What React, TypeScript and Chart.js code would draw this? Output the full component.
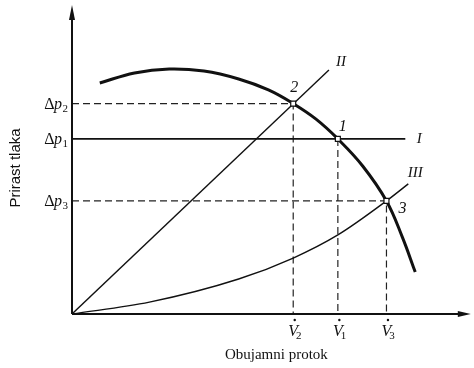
import React, { useEffect, useRef } from 'react';
import { Chart, registerables } from 'chart.js';

Chart.register(...registerables);

// Pump characteristic: volume flow vs. pressure rise
const pumpFlow = [7, 15.75, 24.5, 33.25, 42, 49.5, 55.75, 61.5, 67, 73.25, 79.25, 83.25, 86.5];
const pumpRise = [76, 79.3, 80.6, 79.9, 77.3, 73.7, 69.2, 64.1, 57.6, 48.7, 37.2, 25.3, 13.8];

// System characteristics I, II, III
const systemIFlow = [0, 84];
const systemIRise = [57.6, 57.6];
const systemIIFlow = [0, 64.75];
const systemIIRise = [0, 80.3];
const systemIIIFlow = [0, 19.5, 42, 55.75, 67, 79.25, 84.75];
const systemIIIRise = [0, 3.9, 11.5, 18.4, 26, 37.2, 42.8];
const systemNames = ['I', 'II', 'III'];

// Operating points 1, 2, 3 (V̇1/Δp1, V̇2/Δp2, V̇3/Δp3)
const pointNames = ['1', '2', '3'];
const pointFlow = [67, 55.75, 79.25];
const pointRise = [57.6, 69.2, 37.2];

const xTitle = 'Obujamni protok';
const yTitle = 'Prirast tlaka';

const SERIF = "'Liberation Serif', 'DejaVu Serif', serif";
const SANS = "'Liberation Sans', Arial, sans-serif";

const toXY = (xs: number[], ys: number[]) => xs.map((x, i) => ({ x, y: ys[i] }));

const drawingPlugin = {
  id: 'diagramDecor',
  afterDatasetsDraw(chart: any) {
    const { ctx, chartArea, scales } = chart;
    const xs = scales.x;
    const ys = scales.y;
    const x0 = xs.getPixelForValue(0);
    const y0 = ys.getPixelForValue(0);
    ctx.save();
    ctx.fillStyle = '#111';
    ctx.strokeStyle = '#111';

    // axes with arrowheads
    ctx.lineWidth = 2;
    ctx.beginPath();
    ctx.moveTo(x0, y0);
    ctx.lineTo(x0, chartArea.top + 4);
    ctx.moveTo(x0, y0);
    ctx.lineTo(chartArea.right - 6, y0);
    ctx.stroke();
    ctx.beginPath();
    ctx.moveTo(x0, chartArea.top - 5);
    ctx.lineTo(x0 - 3, chartArea.top + 10);
    ctx.lineTo(x0 + 3, chartArea.top + 10);
    ctx.closePath();
    ctx.fill();
    ctx.beginPath();
    ctx.moveTo(chartArea.right + 2, y0);
    ctx.lineTo(chartArea.right - 11, y0 - 3);
    ctx.lineTo(chartArea.right - 11, y0 + 3);
    ctx.closePath();
    ctx.fill();

    // Δp labels on the pressure axis
    ctx.textBaseline = 'alphabetic';
    ctx.textAlign = 'left';
    pointNames.forEach((n, i) => {
      const py = ys.getPixelForValue(pointRise[i]);
      const base = py + 5;
      ctx.font = `16px ${SERIF}`;
      const wD = ctx.measureText('Δ').width;
      ctx.font = `italic 16px ${SERIF}`;
      const wP = ctx.measureText('p').width;
      ctx.font = `11px ${SERIF}`;
      const wS = ctx.measureText(n).width;
      let sx = x0 - 4 - (wD + wP + wS);
      ctx.font = `16px ${SERIF}`;
      ctx.fillText('Δ', sx, base);
      sx += wD - 0.5;
      ctx.font = `italic 16px ${SERIF}`;
      ctx.fillText('p', sx, base);
      sx += wP + 0.5;
      ctx.font = `11px ${SERIF}`;
      ctx.fillText(n, sx, base + 3);
    });

    // V̇ labels on the flow axis
    pointNames.forEach((n, i) => {
      const px = xs.getPixelForValue(pointFlow[i]);
      const base = y0 + 22;
      ctx.font = `italic 16px ${SERIF}`;
      ctx.textAlign = 'center';
      ctx.fillText('V', px, base);
      const wV = ctx.measureText('V').width;
      ctx.beginPath();
      ctx.arc(px + 1.5, y0 + 6, 1.2, 0, Math.PI * 2);
      ctx.fill();
      ctx.font = `11px ${SERIF}`;
      ctx.textAlign = 'left';
      ctx.fillText(n, px + wV / 2 - 2, base + 3);
    });

    // labels of operating points
    ctx.font = `italic 16px ${SERIF}`;
    ctx.textAlign = 'center';
    ctx.textBaseline = 'middle';
    const pointOffsets = [[5, -12], [1, -16], [16, 8]];
    pointNames.forEach((n, i) => {
      const px = xs.getPixelForValue(pointFlow[i]);
      const py = ys.getPixelForValue(pointRise[i]);
      ctx.fillText(n, px + pointOffsets[i][0], py + pointOffsets[i][1]);
    });

    // labels of system characteristics, placed past each line's end
    const ends = [
      [systemIFlow[systemIFlow.length - 1], systemIRise[systemIRise.length - 1]],
      [systemIIFlow[systemIIFlow.length - 1], systemIIRise[systemIIRise.length - 1]],
      [systemIIIFlow[systemIIIFlow.length - 1], systemIIIRise[systemIIIRise.length - 1]],
    ];
    const endOffsets = [[14, 0], [12, -8], [7, -11]];
    ctx.font = `italic 15px ${SERIF}`;
    systemNames.forEach((n, i) => {
      const px = xs.getPixelForValue(ends[i][0]);
      const py = ys.getPixelForValue(ends[i][1]);
      ctx.fillText(n, px + endOffsets[i][0], py + endOffsets[i][1]);
    });

    // axis titles
    ctx.font = `15px ${SERIF}`;
    ctx.textAlign = 'center';
    ctx.textBaseline = 'middle';
    ctx.fillText(xTitle, (chartArea.left + chartArea.right) / 2 + 6, y0 + 41);
    ctx.save();
    ctx.translate(16, 168);
    ctx.rotate(-Math.PI / 2);
    ctx.font = `15px ${SANS}`;
    ctx.fillText(yTitle, 0, 0);
    ctx.restore();

    ctx.restore();
  },
};

export default function App() {
  const canvasRef = useRef<HTMLCanvasElement | null>(null);

  useEffect(() => {
    if (!canvasRef.current) return;
    const guide = {
      borderColor: '#222',
      borderWidth: 1.2,
      borderDash: [7, 4],
      pointRadius: 0,
      tension: 0,
    };
    // datasets listed first are painted on top
    const chart = new Chart(canvasRef.current, {
      type: 'line',
      data: {
        datasets: [
          {
            label: 'points',
            data: toXY(pointFlow, pointRise),
            showLine: false,
            pointStyle: 'rect',
            pointRadius: 3.5,
            pointBackgroundColor: '#fff',
            pointBorderColor: '#111',
            pointBorderWidth: 1.2,
          },
          {
            label: 'pump',
            data: toXY(pumpFlow, pumpRise),
            borderColor: '#111',
            borderWidth: 3,
            pointRadius: 0,
            tension: 0.4,
          },
          {
            label: 'I',
            data: toXY(systemIFlow, systemIRise),
            borderColor: '#111',
            borderWidth: 1.6,
            pointRadius: 0,
            tension: 0,
          },
          {
            label: 'II',
            data: toXY(systemIIFlow, systemIIRise),
            borderColor: '#111',
            borderWidth: 1.4,
            pointRadius: 0,
            tension: 0,
          },
          {
            label: 'III',
            data: toXY(systemIIIFlow, systemIIIRise),
            borderColor: '#111',
            borderWidth: 1.4,
            pointRadius: 0,
            cubicInterpolationMode: 'monotone',
          },
          {
            label: 'guide Δp2',
            data: [
              { x: 0, y: pointRise[1] },
              { x: pointFlow[1], y: pointRise[1] },
              { x: pointFlow[1], y: 0 },
            ],
            ...guide,
          },
          {
            label: 'guide Δp1',
            data: [
              { x: pointFlow[0], y: pointRise[0] },
              { x: pointFlow[0], y: 0 },
            ],
            ...guide,
          },
          {
            label: 'guide Δp3',
            data: [
              { x: 0, y: pointRise[2] },
              { x: pointFlow[2], y: pointRise[2] },
              { x: pointFlow[2], y: 0 },
            ],
            ...guide,
          },
        ],
      },
      options: {
        animation: false,
        responsive: true,
        maintainAspectRatio: false,
        devicePixelRatio: 1,
        layout: { padding: { left: 72, right: 2, top: 10, bottom: 54 } },
        plugins: { legend: { display: false }, tooltip: { enabled: false } },
        scales: {
          x: { type: 'linear', min: 0, max: 100, display: false },
          y: { type: 'linear', min: 0, max: 100, display: false },
        },
        events: [],
      },
      plugins: [drawingPlugin],
    } as any);
    return () => chart.destroy();
  }, []);

  return (
    <div style={{ position: 'fixed', left: 0, top: 0, width: 474, height: 368, background: '#fff' }}>
      <canvas ref={canvasRef} />
    </div>
  );
}
